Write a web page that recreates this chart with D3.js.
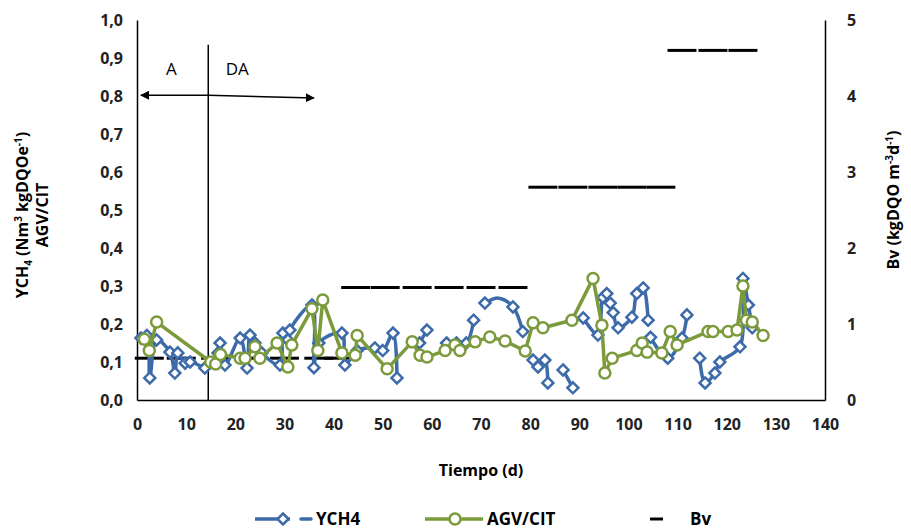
<!DOCTYPE html>
<html>
<head>
<meta charset="utf-8">
<script src="https://cdn.jsdelivr.net/npm/d3@7"></script>
<style>
  body { margin: 0; background: #fff; }
  text { font-family: "Open Sans", sans-serif; }
  .axis text { font-size: 16px; font-weight: bold; fill: #222; }
  .axis path { stroke: #000; stroke-width: 1.5; }
</style>
</head>
<body>
<div class="chart"></div>
<script>
// DATA ------------------------------
// YCH4 (day, value); null = gap in the line
let ych4 = [
  [0.8,0.163],[2,0.17],[2.6,0.058],[4,0.158],[6.7,0.126],[7.7,0.071],[8.3,0.124],
  [9.8,0.097],[10.8,0.1],[13.8,0.084], null,
  [16.5,0.124],[16.9,0.15],[17.9,0.092],[21,0.163],[22.4,0.084],[23,0.171],[24,0.15],
  [25.4,0.124],[29.1,0.092],[29.7,0.176],[30.7,0.158],[31.1,0.184],[35.6,0.25],[36,0.085],
  [37,0.15],[41.7,0.176],[42.3,0.092],[44.8,0.13],[48.4,0.137],[50,0.13],[52.1,0.176],
  [52.9,0.058], null,
  [57.5,0.15],[59,0.184], null,
  [63,0.15],[65,0.15],[67,0.15],[68.5,0.21], null,
  [70.8,0.255],[73.6,0.268],[76.5,0.245],[78.5,0.18], null,
  [80.6,0.105],[81.6,0.087],[83,0.105],[83.6,0.045], null,
  [86.7,0.079],[88.7,0.032], null,
  [90.8,0.216],[93.8,0.171],[94.8,0.27],[95.6,0.28],[96.3,0.255],[96.9,0.23],[97.9,0.19],
  [100.7,0.218],[101.7,0.28],[103,0.295],[104,0.21], null,
  [104.5,0.165],[108,0.11],[110.9,0.163],[111.9,0.224], null,
  [114.5,0.11],[115.6,0.045],[117.6,0.071],[118.6,0.1],[122.7,0.14],[123.3,0.32],
  [124.4,0.25],[125.2,0.19]
];
// points drawn without a marker (curve peak)
let ych4NoMarker = [73.6];

let agvcit = [
  [1.5,0.16],[2.5,0.13],[4,0.205],[15,0.10],[16,0.095],[17,0.12],[21,0.11],[22,0.11],
  [24,0.14],[25,0.11],[28.5,0.15],[30.7,0.087],[31.5,0.145],[35.6,0.24],[36.8,0.13],
  [37.8,0.263],[41.7,0.124],[44.4,0.118],[44.8,0.17],[50.9,0.082],[56,0.153],[57.6,0.118],
  [59,0.113],[62.7,0.13],[64.7,0.145],[65.7,0.13],[68.8,0.153],[71.8,0.166],[74.9,0.155],
  [79,0.129],[80.6,0.203],[82.6,0.19],[88.5,0.21],[92.8,0.32],[94.6,0.197],[95.2,0.071],
  [96.7,0.11],[101.7,0.13],[102.8,0.15],[103.8,0.126],[106.8,0.124],[108.5,0.18],
  [109.9,0.145],[116.2,0.18],[117.2,0.18],[120.3,0.18],[122.1,0.184],[123.3,0.30],
  [124,0.21],[125.2,0.205],[127.4,0.17]
];

// Bv (day, value) drawn as dash markers on right axis
let bv = [
  [2.5,0.55],[9,0.55],[16,0.55],[23,0.55],[30,0.55],[37,0.55],[41,0.55],
  [44.5,1.48],[50.5,1.48],[57,1.48],[63.5,1.48],[70,1.48],[76.5,1.48],
  [82.6,2.8],[88.7,2.8],[94.8,2.8],[100.7,2.8],[106.6,2.8],
  [110.9,4.6],[117.2,4.6],[123.3,4.6]
];

let xTicks = d3.range(0, 141, 10);
let yLeftTicks = d3.range(0, 1.01, 0.1);
let yRightTicks = [0, 1, 2, 3, 4, 5];

// phase marker (A / DA)
let phaseDay = 14.5;

// CHART INIT ------------------------------
let width = 911, height = 529;
let blue = "#3d6ba9", green = "#7b9a3b";

let svg = d3.select(".chart").append("svg")
  .attr("width", width).attr("height", height);

let x = d3.scaleLinear().domain([0, 140]).range([137, 825]);
let yL = d3.scaleLinear().domain([0, 1]).range([400, 20]);
let yR = d3.scaleLinear().domain([0, 5]).range([400, 20]);

// axes
svg.append("g").attr("class", "axis")
  .attr("transform", "translate(0,400)")
  .call(d3.axisBottom(x).tickValues(xTicks).tickSize(0).tickSizeOuter(0).tickPadding(19));

svg.append("g").attr("class", "axis")
  .attr("transform", "translate(137,0)")
  .call(d3.axisLeft(yL).tickValues(yLeftTicks).tickSize(0).tickSizeOuter(0).tickPadding(14)
    .tickFormat(d => d3.format(".1f")(d).replace(".", ",")));

svg.append("g").attr("class", "axis")
  .attr("transform", "translate(825,0)")
  .call(d3.axisRight(yR).tickValues(yRightTicks).tickSize(0).tickSizeOuter(0).tickPadding(22)
    .tickFormat(d3.format("d")));

// axis titles
svg.append("text")
  .attr("x", 481).attr("y", 476)
  .attr("text-anchor", "middle")
  .style("font-size", "16px").style("font-weight", "bold")
  .text("Tiempo (d)");

let lt = svg.append("text")
  .attr("transform", "translate(28,215) rotate(-90)")
  .attr("text-anchor", "middle")
  .style("font-size", "16px").style("font-weight", "bold");
lt.append("tspan").text("YCH");
lt.append("tspan").text("4").style("font-size", "10px").attr("dy", 4);
lt.append("tspan").text(" (Nm").attr("dy", -4);
lt.append("tspan").text("3").style("font-size", "10px").attr("dy", -6);
lt.append("tspan").text(" kgDQOe").attr("dy", 6);
lt.append("tspan").text("-1").style("font-size", "10px").attr("dy", -6);
lt.append("tspan").text(")").attr("dy", 6);

svg.append("text")
  .attr("transform", "translate(48,215) rotate(-90)")
  .attr("text-anchor", "middle")
  .style("font-size", "16px").style("font-weight", "bold")
  .text("AGV/CIT");

let rt = svg.append("text")
  .attr("transform", "translate(899,200) rotate(-90)")
  .attr("text-anchor", "middle")
  .style("font-size", "16px").style("font-weight", "bold");
rt.append("tspan").text("Bv (kgDQO m");
rt.append("tspan").text("-3").style("font-size", "10px").attr("dy", -6);
rt.append("tspan").text("d").attr("dy", 6);
rt.append("tspan").text("-1").style("font-size", "10px").attr("dy", -6);
rt.append("tspan").text(")").attr("dy", 6);

// phase line, arrows, labels
let defs = svg.append("defs");
defs.append("marker").attr("id", "arr")
  .attr("viewBox", "0 0 10 10").attr("refX", 9).attr("refY", 5)
  .attr("markerWidth", 9).attr("markerHeight", 9).attr("orient", "auto")
  .attr("markerUnits", "userSpaceOnUse")
  .append("path").attr("d", "M0,0L10,5L0,10Z").attr("fill", "#000");

svg.append("line")
  .attr("x1", x(phaseDay)).attr("x2", x(phaseDay))
  .attr("y1", yL(0.935)).attr("y2", yL(0))
  .attr("stroke", "#000").attr("stroke-width", 1.5);

svg.append("line")
  .attr("x1", x(phaseDay)).attr("x2", x(0.8))
  .attr("y1", yL(0.802)).attr("y2", yL(0.802))
  .attr("stroke", "#000").attr("stroke-width", 1.5).attr("marker-end", "url(#arr)");
svg.append("line")
  .attr("x1", x(phaseDay)).attr("x2", x(36))
  .attr("y1", yL(0.802)).attr("y2", yL(0.795))
  .attr("stroke", "#000").attr("stroke-width", 1.5).attr("marker-end", "url(#arr)");

svg.append("text").attr("x", x(7)).attr("y", yL(0.855))
  .attr("text-anchor", "middle").style("font-size", "17px").text("A");
svg.append("text").attr("x", x(20.4)).attr("y", yL(0.855))
  .attr("text-anchor", "middle").style("font-size", "17px").text("DA");

// Bv dashes
svg.selectAll(".bv").data(bv).enter().append("line")
  .attr("class", "bv")
  .attr("x1", d => x(d[0]) - 14.5).attr("x2", d => x(d[0]) + 14.5)
  .attr("y1", d => yR(d[1])).attr("y2", d => yR(d[1]))
  .attr("stroke", "#000").attr("stroke-width", 3);

// lines
let line = d3.line()
  .defined(d => d !== null)
  .x(d => x(d[0])).y(d => yL(d[1]));

svg.append("path").datum(ych4)
  .attr("fill", "none").attr("stroke", blue).attr("stroke-width", 3.5)
  .attr("stroke-linejoin", "round").attr("stroke-linecap", "round")
  .attr("d", line.curve(d3.curveCatmullRom.alpha(0.5)));

svg.selectAll(".dia").data(ych4.filter(d => d && ych4NoMarker.indexOf(d[0]) < 0))
  .enter().append("path")
  .attr("class", "dia")
  .attr("transform", d => "translate(" + x(d[0]) + "," + yL(d[1]) + ")")
  .attr("d", "M0,-5.5L5.5,0L0,5.5L-5.5,0Z")
  .attr("fill", "#fff").attr("stroke", blue).attr("stroke-width", 2.5);

svg.append("path").datum(agvcit)
  .attr("fill", "none").attr("stroke", green).attr("stroke-width", 3.5)
  .attr("stroke-linejoin", "round")
  .attr("d", line.curve(d3.curveLinear));

svg.selectAll(".circ").data(agvcit).enter().append("circle")
  .attr("class", "circ")
  .attr("cx", d => x(d[0])).attr("cy", d => yL(d[1])).attr("r", 5.5)
  .attr("fill", "#fff").attr("stroke", green).attr("stroke-width", 2.5);

// legend
let lg = svg.append("g");
lg.append("line").attr("x1", 255).attr("x2", 290).attr("y1", 519).attr("y2", 519)
  .attr("stroke", blue).attr("stroke-width", 3.5);
lg.append("path").attr("transform", "translate(283,519)").attr("d", "M0,-5.5L5.5,0L0,5.5L-5.5,0Z")
  .attr("fill", "#fff").attr("stroke", blue).attr("stroke-width", 2.5);
lg.append("line").attr("x1", 301).attr("x2", 311).attr("y1", 519).attr("y2", 519)
  .attr("stroke", blue).attr("stroke-width", 3.5).attr("stroke-linecap", "round");
lg.append("text").attr("x", 316).attr("y", 525).style("font-size", "17px").style("font-weight", "bold").text("YCH4");

lg.append("line").attr("x1", 425).attr("x2", 483).attr("y1", 519).attr("y2", 519)
  .attr("stroke", green).attr("stroke-width", 3.5);
lg.append("circle").attr("cx", 455).attr("cy", 519).attr("r", 5.5)
  .attr("fill", "#fff").attr("stroke", green).attr("stroke-width", 2.5);
lg.append("text").attr("x", 487).attr("y", 525).style("font-size", "17px").style("font-weight", "bold").text("AGV/CIT");

lg.append("line").attr("x1", 650).attr("x2", 663).attr("y1", 519).attr("y2", 519)
  .attr("stroke", "#000").attr("stroke-width", 3);
lg.append("text").attr("x", 690).attr("y", 525).style("font-size", "17px").style("font-weight", "bold").text("Bv");
</script>
</body>
</html>
